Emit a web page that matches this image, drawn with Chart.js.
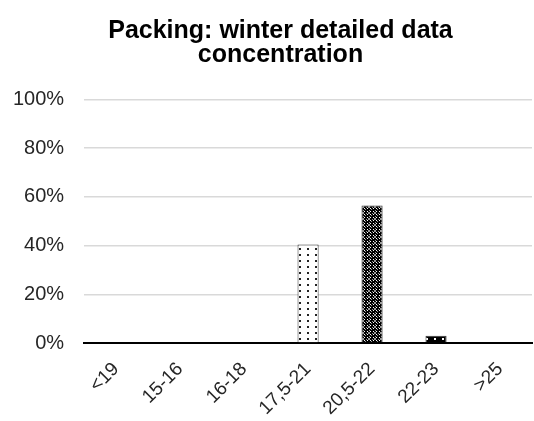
<!DOCTYPE html>
<html>
<head>
<meta charset="utf-8">
<script src="https://cdn.jsdelivr.net/npm/chart.js@4.4.1/dist/chart.umd.min.js"></script>
<style>
  html, body { margin: 0; padding: 0; background: #fff; }
  #wrap { width: 534px; height: 421px; }
</style>
</head>
<body>
<div id="wrap"><canvas id="packingChart" width="534" height="421"></canvas></div>
<script>
// data
const categories = ['<19', '15-16', '16-18', '17,5-21', '20,5-22', '22-23', '>25'];
const shares = [0, 0, 0, 40.5, 56.5, 3, 0];
const yTicks = [0, 20, 40, 60, 80, 100];
const titleLines = ['Packing: winter detailed data', 'concentration'];

const FONT = 'Arial, "Liberation Sans", sans-serif';

// small tiles to mimic the Excel fill patterns
function makePattern(kind) {
    const c = document.createElement('canvas');
    const g = c.getContext('2d');
    if (kind === 'dots') {
        c.width = 8; c.height = 6;
        g.fillStyle = '#fff'; g.fillRect(0, 0, 8, 6);
        g.fillStyle = '#222';
        g.fillRect(3, 2, 2, 2);
    } else if (kind === 'check') {
        c.width = 6; c.height = 6;
        g.fillStyle = '#000'; g.fillRect(0, 0, 6, 6);
        g.fillStyle = '#fff';
        g.fillRect(1, 1, 1, 1); g.fillRect(4, 4, 1, 1);
        g.fillRect(1, 4, 1, 1); g.fillRect(4, 1, 1, 1);
        g.fillStyle = '#999';
        g.fillRect(2, 2, 2, 2); g.fillRect(5, 5, 1, 1);
        g.fillRect(0, 3, 1, 1); g.fillRect(3, 0, 1, 1);
    } else {
        c.width = 8; c.height = 8;
        g.fillStyle = '#000'; g.fillRect(0, 0, 8, 8);
        g.fillStyle = '#fff';
        g.fillRect(2, 2, 2, 2);
    }
    return g.createPattern(c, 'repeat');
}

// nudge the title a little right, like Excel centring it over the plot
const shiftTitle = {
    id: 'shiftTitle',
    afterLayout(chart) {
        const t = chart.titleBlock;
        if (t) { t.left += 8; t.right += 8; }
    }
};

const ctx = document.getElementById('packingChart').getContext('2d');
const fills = ['#fff', '#fff', '#fff', makePattern('dots'), makePattern('check'), makePattern('solid'), '#fff'];

new Chart(ctx, {
    type: 'bar',
    data: {
        labels: categories,
        datasets: [{
            data: shares,
            backgroundColor: fills,
            borderColor: '#333',
            borderWidth: 1,
            categoryPercentage: 1,
            barPercentage: 0.33
        }]
    },
    plugins: [shiftTitle],
    options: {
        responsive: false,
        animation: false,
        devicePixelRatio: 1,
        layout: { padding: { left: 13, right: 2, top: 19, bottom: 0 } },
        plugins: {
            legend: { display: false },
            tooltip: { enabled: false },
            title: {
                display: true,
                text: titleLines,
                color: '#000',
                font: { family: FONT, size: 25, weight: 'bold', lineHeight: 0.95 },
                padding: { top: 0, bottom: 33 }
            }
        },
        scales: {
            x: {
                grid: { display: false },
                border: { color: '#000', width: 2 },
                afterFit: scale => { scale.paddingLeft = 0; scale.height = 78; },
                ticks: {
                    color: '#262626',
                    maxRotation: 45,
                    minRotation: 45,
                    padding: 7,
                    font: { family: FONT, size: 19 }
                }
            },
            y: {
                min: 0,
                max: 100,
                afterBuildTicks: axis => { axis.ticks = yTicks.map(v => ({ value: v })); },
                afterFit: axis => { axis.width -= 20; },
                grid: { color: '#d9d9d9', lineWidth: 1.5, drawTicks: false },
                border: { display: false },
                ticks: {
                    color: '#262626',
                    padding: 20,
                    callback: v => v + '%',
                    font: { family: FONT, size: 20 }
                }
            }
        }
    }
});
</script>
</body>
</html>
